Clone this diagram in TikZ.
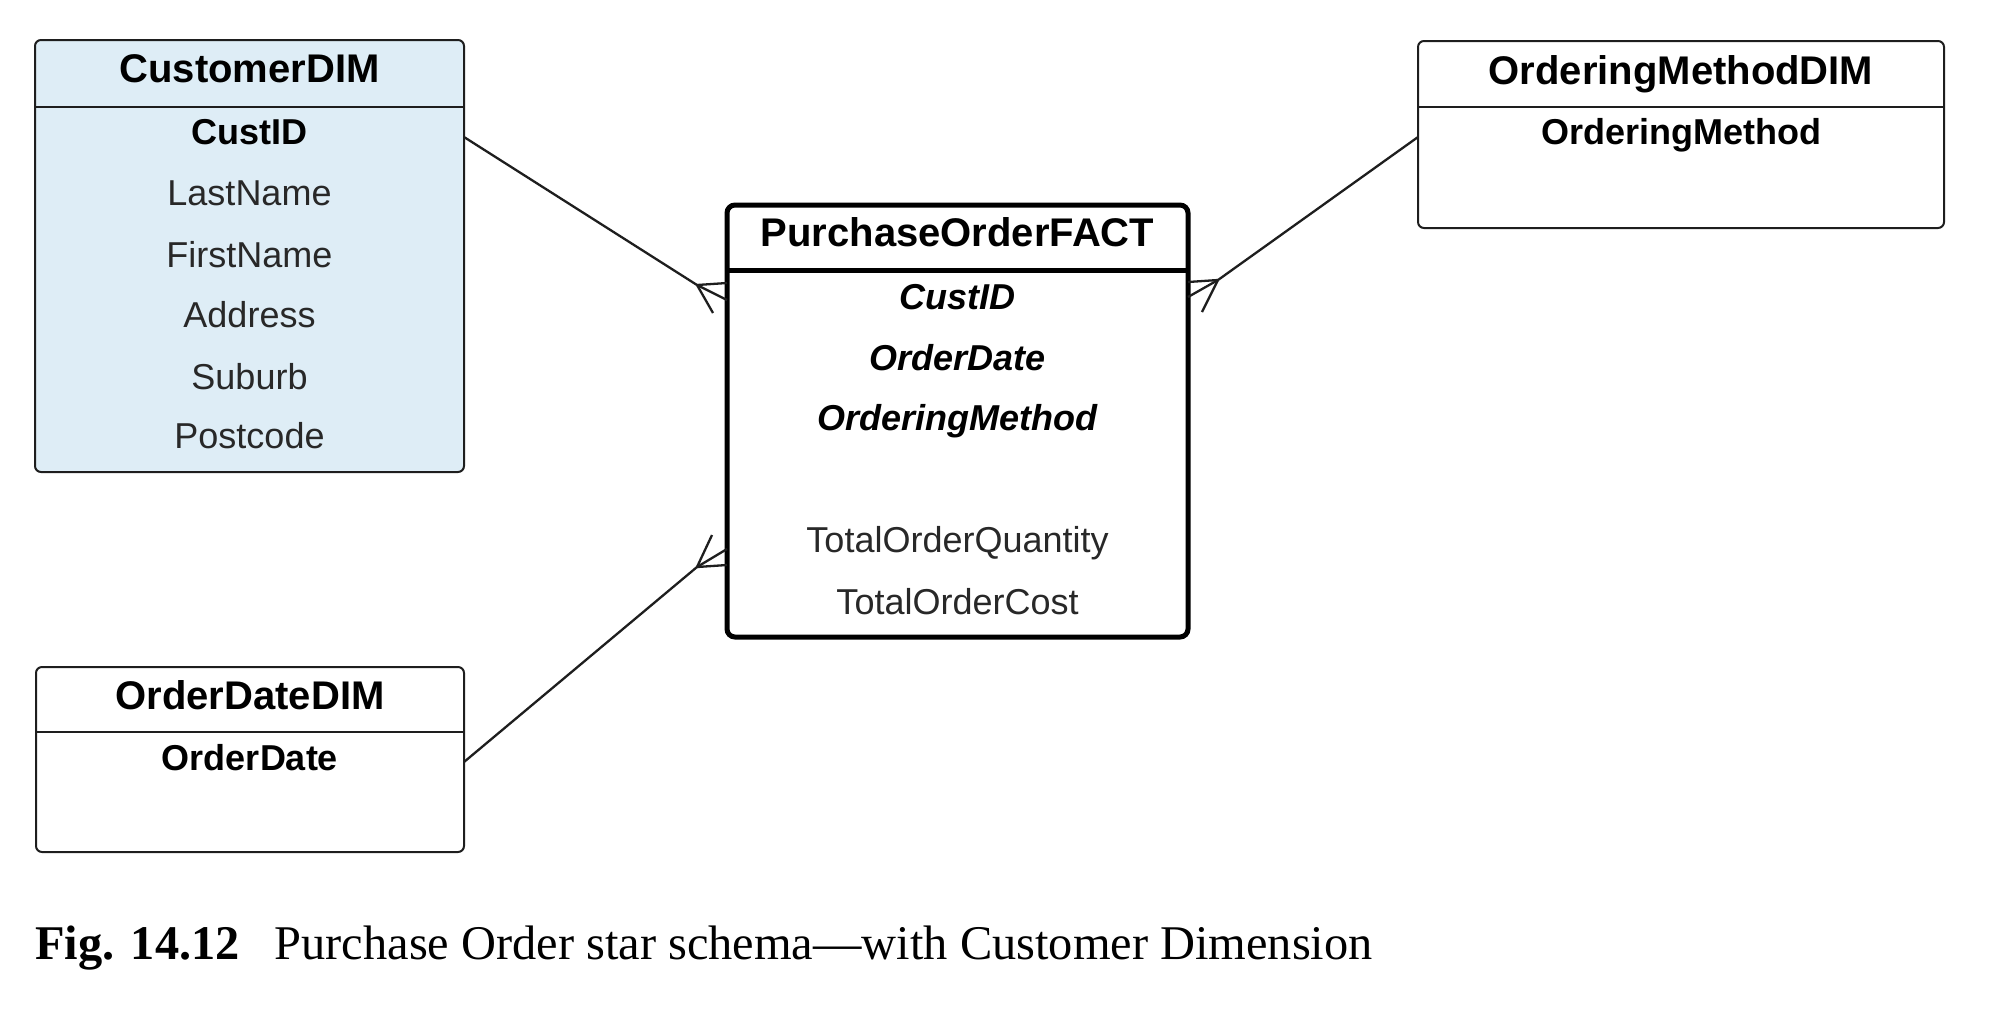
\documentclass[tikz,border=0pt]{standalone}
\usepackage{fontspec}
\setmainfont{Liberation Sans}
\newfontfamily\capfont{Liberation Serif}
\usetikzlibrary{calc}
\definecolor{custblue}{RGB}{222,237,246}
\definecolor{lineblk}{RGB}{30,30,30}
\definecolor{txtgray}{RGB}{40,40,40}
\begin{document}
\begin{tikzpicture}[x=0.5pt,y=-0.5pt,
  dimbox/.style={draw=lineblk, line width=1pt, rounded corners=3pt, anchor=north west, inner sep=0pt, outer sep=0pt},
  factbox/.style={draw=black, fill=white, line width=2.5pt, rounded corners=4pt, anchor=north west, inner sep=0pt, outer sep=0pt},
  sep/.style={draw=lineblk, line width=1pt},
  fsep/.style={draw=black, line width=2.5pt},
  ttl/.style={font=\fontsize{20pt}{24pt}\selectfont\bfseries, text height=14.3pt, text depth=0pt, inner sep=0pt},
  fld/.style={font=\fontsize{18pt}{22pt}\selectfont, text=txtgray, text height=12.9pt, text depth=0pt, inner sep=0pt},
  keyf/.style={fld, font=\fontsize{18pt}{22pt}\selectfont\bfseries, text=black},
  fkeyf/.style={fld, font=\fontsize{18pt}{22pt}\selectfont\bfseries\itshape, text=black},
  conn/.style={draw=lineblk, line width=1.15pt},
]
\useasboundingbox (0,0) rectangle (2000,1008);

% boxes
\node[dimbox, fill=custblue, minimum width=214.5pt, minimum height=216pt] (cust) at (35,40) {};
\draw[sep] ($(cust.north west)+(0,67)$) -- ($(cust.north east)+(0,67)$);
\node[dimbox, minimum width=263pt, minimum height=93.5pt] (om) at (1418,41) {};
\draw[sep] ($(om.north west)+(0,66)$) -- ($(om.north east)+(0,66)$);
\node[dimbox, minimum width=214pt, minimum height=92.5pt] (od) at (36,667) {};
\draw[sep] ($(od.north west)+(0,65)$) -- ($(od.north east)+(0,65)$);
\node[factbox, minimum width=230.5pt, minimum height=216pt] (fact) at (727,205) {};
\draw[fsep] ($(fact.north west)+(0,65)$) -- ($(fact.north east)+(0,65)$);

% texts
\node[ttl] (custT) at (249.5,68) {CustomerDIM};
\node[keyf] (custK) at (249.5,132) {CustID};
\node[fld] (custF1) at (249.5,193) {LastName};
\node[fld] (custF2) at (249.5,255) {FirstName};
\node[fld] (custF3) at (249.5,315) {Address};
\node[fld] (custF4) at (249.5,377) {Suburb};
\node[fld] (custF5) at (249.5,436) {Postcode};

\node[ttl] (omT) at (1681,70) {OrderingMethodDIM};
\node[keyf] (omK) at (1681,132) {OrderingMethod};

\node[ttl] (odT) at (250,695) {OrderDateDIM};
\node[keyf] (odK) at (250,758) {OrderDate};

\node[ttl] (factT) at (957.5,232) {PurchaseOrderFACT};
\node[fkeyf] (factK1) at (957.5,297) {CustID};
\node[fkeyf] (factK2) at (957.5,358) {OrderDate};
\node[fkeyf] (factK3) at (957.5,418) {OrderingMethod};
\node[fld] (factF1) at (957.5,540) {TotalOrderQuantity};
\node[fld] (factF2) at (957.5,602) {TotalOrderCost};

% connectors with crow's feet
\coordinate (c1s) at ($(cust.north east)+(0,97)$);
\coordinate (c1a) at (697,285);
\draw[conn] (c1s) -- (c1a);
\draw[conn] (c1a) -- ($(fact.north west)+(0,78)$);
\draw[conn] (c1a) -- ($(fact.north west)+(0,95)$);
\draw[conn] (c1a) -- (713,313);

\coordinate (c2s) at ($(om.north west)+(0,96)$);
\coordinate (c2a) at (1218,280);
\draw[conn] (c2s) -- (c2a);
\draw[conn] (c2a) -- ($(fact.north east)+(0,77)$);
\draw[conn] (c2a) -- ($(fact.north east)+(0,92)$);
\draw[conn] (c2a) -- (1202,312);

\coordinate (c3s) at ($(od.north east)+(0,95)$);
\coordinate (c3a) at (697,567);
\draw[conn] (c3s) -- (c3a);
\draw[conn] (c3a) -- ($(fact.south west)+(0,-72)$);
\draw[conn] (c3a) -- ($(fact.south west)+(0,-88)$);
\draw[conn] (c3a) -- (712,535);

% caption
\node[anchor=base west, inner sep=0pt, font=\capfont\fontsize{24.2pt}{29pt}\selectfont] (cap) at (35,959)
  {\textbf{Fig. 14.12}\hspace{0.72em}Purchase Order star schema—with Customer Dimension};
\end{tikzpicture}
\end{document}
